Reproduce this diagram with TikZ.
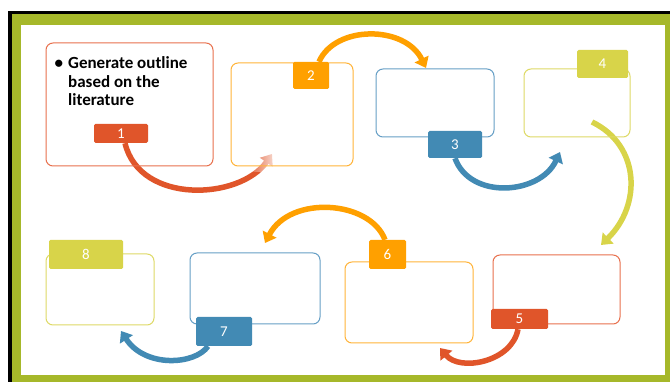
\documentclass[tikz,border=0pt]{standalone}
\usepackage{fontspec}
\setmainfont{Carlito}
\usetikzlibrary{arrows.meta,fadings}

\definecolor{cRed}{HTML}{E0552A}
\definecolor{cOrange}{HTML}{FFA000}
\definecolor{cBlue}{HTML}{428AB4}
\definecolor{cLime}{HTML}{D8D449}
\definecolor{lRed}{HTML}{E8714E}
\definecolor{lOrange}{HTML}{FFB43A}
\definecolor{lBlue}{HTML}{669FC6}
\definecolor{lLime}{HTML}{DEDA66}
\definecolor{frameGreen}{HTML}{A6B82A}

\pgfdeclarelayer{frame}
\pgfdeclarelayer{arcs}
\pgfsetlayers{frame,arcs,main}

\begin{document}
\begin{tikzpicture}[x=1pt,y=-1pt,
  stepbox/.style={draw=#1, line width=1pt, rounded corners=7pt, inner sep=0pt},
  tag/.style={fill=#1, rounded corners=1.5pt, text=white, inner sep=0pt,
    font=\fontsize{15}{18}\selectfont},
  flow/.style={draw=#1, line width=5.5pt, -{Triangle[width=15pt,length=10pt]}}]
\useasboundingbox (0,0) rectangle (670,382);

% frame
\begin{pgfonlayer}{frame}
  \fill[black] (8,11) rectangle (672,384);
  \fill[frameGreen] (12,14) rectangle (672,384);
  \fill[white] (21,25) rectangle (665,375);
\end{pgfonlayer}

% step boxes
\node[stepbox=lRed, minimum width=167, minimum height=123] (b1) at (129.5,104.5) {};
\node[stepbox=lBlue, minimum width=118, minimum height=68] (b3) at (435,103) {};
\node[stepbox=lLime, minimum width=106, minimum height=68] (b4) at (577,103) {};
\node[stepbox=lRed, minimum width=127, minimum height=69] (b5) at (556.5,289.5) {};
\node[stepbox=lOrange, minimum width=128, minimum height=81] (b6) at (409,302.5) {};
\node[stepbox=lBlue, minimum width=130, minimum height=71] (b7) at (255,288.5) {};
\node[stepbox=lLime, minimum width=108, minimum height=71] (b8) at (100,289.5) {};
\node[stepbox=lOrange, minimum width=122, minimum height=103] (b2) at (292,114.5) {};

% text of the first step (anchored at the baseline of its last line)
\node[anchor=base west, align=left, inner sep=0pt,
  font=\bfseries\fontsize{17}{18.5}\selectfont] (txt) at (68,106)
  {\llap{\textbullet\hspace{5pt}}Generate outline\\based on the\\literature};

% number tags
\node[tag=cRed, minimum width=54, minimum height=19] (t1) at (121,133.5) {1};
\node[tag=cOrange, minimum width=36, minimum height=27] (t2) at (311,75.5) {2};
\node[tag=cBlue, minimum width=54, minimum height=27] (t3) at (455,144.5) {3};
\node[tag=cLime, minimum width=51, minimum height=28] (t4) at (602.5,64) {4};
\node[tag=cRed, minimum width=57, minimum height=20] (t5) at (519.5,319) {5};
\node[tag=cOrange, minimum width=37, minimum height=29] (t6) at (387.5,254.5) {6};
\node[tag=cBlue, minimum width=56, minimum height=29] (t7) at (224,331.5) {7};
\node[tag=cLime, minimum width=74, minimum height=29] (t8) at (86,254.5) {8};

% arrow end points
\coordinate (e1) at (272,154);
\coordinate (e2) at (426,68);
\coordinate (e3) at (560,152);
\coordinate (s4) at (592,122);
\coordinate (e4) at (601,245);
\coordinate (e5) at (440,348);
\coordinate (e6) at (265,243);
\coordinate (e7) at (121,331);

% curved arrows between the steps
\begin{pgfonlayer}{arcs}
  \draw[flow=cRed] ([xshift=4]t1.south) .. controls (140,205) and (240,200) .. (e1);
  \fill[white, opacity=0.95, path fading=west] (246,138) rectangle (280,172);
  \draw[flow=cOrange] ([xshift=8]t2.north) .. controls (335,25) and (405,25) .. (e2);
  \draw[flow=cBlue] (t3.south) .. controls (470,200) and (540,195) .. (e3);
  \draw[flow=cLime] (s4) .. controls (640,145) and (642,205) .. (e4);
  \draw[flow=cRed] ([xshift=-1.5]t5.south) .. controls (512,362) and (460,372) .. (e5);
  \draw[flow=cOrange] ([xshift=-2.5]t6.north) .. controls (370,200) and (290,195) .. (e6);
  \draw[flow=cBlue] ([xshift=-16]t7.south) .. controls (195,365) and (145,368) .. (e7);
\end{pgfonlayer}
\end{tikzpicture}
\end{document}
